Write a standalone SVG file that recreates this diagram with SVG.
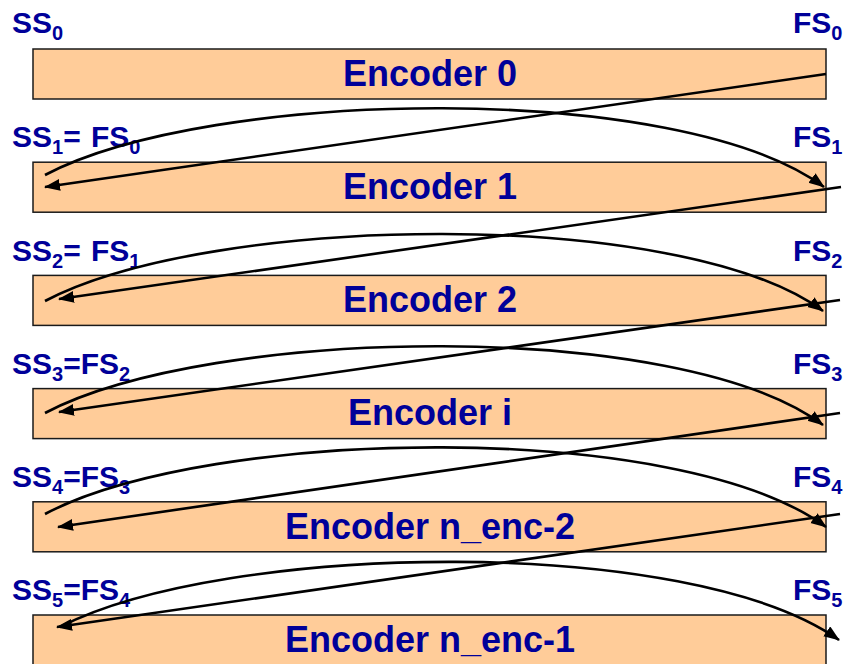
<svg xmlns="http://www.w3.org/2000/svg" width="843" height="664" viewBox="0 0 843 664">
  <style>
    .box { fill: #FFCC99; stroke: #1a1a1a; stroke-width: 1.5; }
    .title { font-family: "Liberation Sans", Arial, sans-serif; font-weight: bold; font-size: 36px; fill: #000099; text-anchor: middle; }
    .lbl { font-family: "Liberation Sans", Arial, sans-serif; font-weight: bold; font-size: 30px; fill: #000099; }
    .sub { font-size: 20px; }
    .conn { fill: none; stroke: #000; stroke-width: 2.6; marker-end: url(#arr); }
  </style>
  <defs>
    <marker id="arr" markerUnits="userSpaceOnUse" markerWidth="18" markerHeight="13" refX="15" refY="6" orient="auto">
      <path d="M0,0 L16,6 L0,12 z" fill="#000"/>
    </marker>
  </defs>

  <g id="node-enc0">
    <rect class="box" x="33" y="49" width="793" height="50"/>
    <text class="title" x="430" y="85.7">Encoder 0</text>
  </g>
  <g id="node-enc1">
    <rect class="box" x="33" y="162.2" width="793" height="50"/>
    <text class="title" x="430" y="199">Encoder 1</text>
  </g>
  <g id="node-enc2">
    <rect class="box" x="33" y="275.4" width="793" height="50"/>
    <text class="title" x="430" y="312.2">Encoder 2</text>
  </g>
  <g id="node-enci">
    <rect class="box" x="33" y="388.6" width="793" height="50"/>
    <text class="title" x="430" y="425.4">Encoder i</text>
  </g>
  <g id="node-encn2">
    <rect class="box" x="33" y="501.8" width="793" height="50"/>
    <text class="title" x="430" y="538.6">Encoder n_enc-2</text>
  </g>
  <g id="node-encn1">
    <rect class="box" x="33" y="615" width="793" height="50"/>
    <text class="title" x="430" y="651.8">Encoder n_enc-1</text>
  </g>

  <g id="labels">
    <text class="lbl" x="12" y="33">SS<tspan class="sub" dy="7">0</tspan></text>
    <text class="lbl" x="793" y="33">FS<tspan class="sub" dy="7">0</tspan></text>

    <text class="lbl" x="12" y="146.5">SS<tspan class="sub" dy="7">1</tspan><tspan dy="-7">= </tspan><tspan x="91">FS</tspan><tspan class="sub" dy="7">0</tspan></text>
    <text class="lbl" x="793" y="146.5">FS<tspan class="sub" dy="7">1</tspan></text>

    <text class="lbl" x="12" y="260.5">SS<tspan class="sub" dy="7">2</tspan><tspan dy="-7">= </tspan><tspan x="91">FS</tspan><tspan class="sub" dy="7">1</tspan></text>
    <text class="lbl" x="793" y="260.5">FS<tspan class="sub" dy="7">2</tspan></text>

    <text class="lbl" x="12" y="374">SS<tspan class="sub" dy="7">3</tspan><tspan dy="-7">=FS</tspan><tspan class="sub" dy="7">2</tspan></text>
    <text class="lbl" x="793" y="374">FS<tspan class="sub" dy="7">3</tspan></text>

    <text class="lbl" x="12" y="487">SS<tspan class="sub" dy="7">4</tspan><tspan dy="-7">=FS</tspan><tspan class="sub" dy="7">3</tspan></text>
    <text class="lbl" x="793" y="487">FS<tspan class="sub" dy="7">4</tspan></text>

    <text class="lbl" x="12" y="600">SS<tspan class="sub" dy="7">5</tspan><tspan dy="-7">=FS</tspan><tspan class="sub" dy="7">4</tspan></text>
    <text class="lbl" x="793" y="600">FS<tspan class="sub" dy="7">5</tspan></text>
  </g>

  <g id="connectors">
    <path class="conn" d="M826,74 L45,187"/>
    <path class="conn" d="M45,175 C210,88 680,80 824,187"/>

    <path class="conn" d="M841,187 L59,299"/>
    <path class="conn" d="M45,301 C210,214 680,206 823,311"/>

    <path class="conn" d="M840,300 L59,412"/>
    <path class="conn" d="M45,413 C210,326 680,318 823,425"/>

    <path class="conn" d="M840,413 L58,527"/>
    <path class="conn" d="M45,514 C210,427 680,419 826,527"/>

    <path class="conn" d="M840,514 L57,627"/>
    <path class="conn" d="M60,627 C225,542 690,534 839,640"/>
  </g>
</svg>
